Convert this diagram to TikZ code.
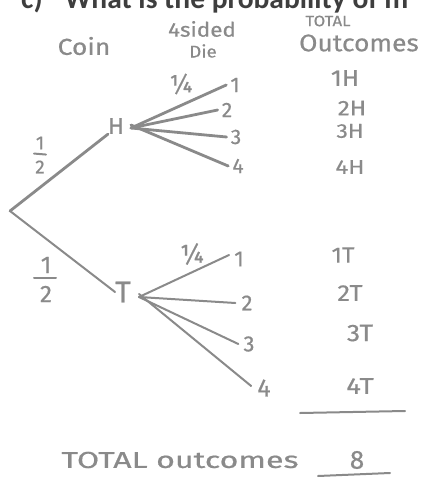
\documentclass[tikz,border=0pt]{standalone}
\usepackage{fontspec}
\setmainfont{Fira Sans}
\newfontfamily\headfont{Carlito}
\definecolor{pen}{HTML}{8A8A8A}
\definecolor{head}{HTML}{3E3E3E}
\tikzset{
  hand/.style={inner sep=0pt, text=pen},
  stroke/.style={draw=pen, line width=2.8pt, line cap=round},
  thin stroke/.style={draw=pen, line width=2pt, line cap=round},
}
\newcommand\hw[2]{\fontsize{#1}{#1}\selectfont\addfontfeature{FakeStretch=#2,FakeBold=0.6}}
\begin{document}
\begin{tikzpicture}[x=1pt,y=-1pt]
\useasboundingbox (0,0) rectangle (424,478);
\clip (0,0) rectangle (424,478);
% header (cut off at the top)
\node[anchor=base west, inner sep=0pt, text=head, font=\headfont\bfseries\fontsize{29.5}{29.5}\selectfont] (head) at (21,9)
  {c)\hspace{22pt}What is the probability of m};
% column titles
\node[hand, font=\hw{23}{1.15}] (coin) at (84,46) {Coin};
\node[hand, font=\hw{20}{1.12}] (sided) at (202,29) {4sided};
\node[hand, font=\hw{17}{1.1}] (die) at (203,51) {Die};
\node[hand, font=\hw{15}{1.12}] (total) at (328,21) {TOTAL};
\node[hand, font=\hw{24}{1.1}] (outc) at (359,43) {Outcomes};
% tree
\coordinate (root) at (10,211);
\node[hand, font=\hw{23}{1}] (H) at (116,126) {H};
\node[hand, font=\hw{30}{1}] (T) at (123,292) {T};
\draw[stroke] (root) -- (H.south west);
\draw[thin stroke] (root) -- (T.west);
% probabilities 1/2
\node[hand, font=\hw{19}{1}] (h1) at (40,143) {1};
\node[hand, font=\hw{19}{1}] (h2) at (40,167) {2};
\draw[thin stroke] ([xshift=-6pt,yshift=-4pt]h1.south) -- ([xshift=6pt,yshift=-5pt]h1.south);
\node[hand, font=\hw{24}{1}] (t1) at (46,265) {1};
\node[hand, font=\hw{24}{1}] (t2) at (46,294) {2};
\draw[thin stroke] ([xshift=-12pt,yshift=-5pt]t1.south) -- ([xshift=10pt,yshift=-5pt]t1.south);
% H branches
\coordinate (Hs) at (131,128);
\node[hand, font=\hw{21}{1}] (H1) at (235,85) {1};
\node[hand, font=\hw{21}{1}] (H2) at (227,110) {2};
\node[hand, font=\hw{21}{1}] (H3) at (236,137) {3};
\node[hand, font=\hw{21}{1}] (H4) at (238,166) {4};
\draw[stroke] (Hs) -- ([xshift=-4pt]H1.west);
\draw[stroke] (Hs) -- ([xshift=-4pt]H2.west);
\draw[stroke] (Hs) -- ([xshift=-4pt]H3.west);
\draw[stroke] ([yshift=3pt]Hs) -- ([xshift=-4pt]H4.west);
\node[hand, font=\hw{25}{1}] (Hq) at (181,84) {¼};
% T branches
\coordinate (Ts) at (139,297);
\node[hand, font=\hw{22}{1}] (T1) at (239,259) {1};
\node[hand, font=\hw{22}{1}] (T2) at (247,303) {2};
\node[hand, font=\hw{22}{1}] (T3) at (249,344) {3};
\node[hand, font=\hw{25}{1}] (T4) at (264,388) {4};
\draw[thin stroke] (Ts) -- ([xshift=-5pt,yshift=4pt]T1.west);
\draw[thin stroke] (Ts) -- ([xshift=-6pt]T2.west);
\draw[thin stroke] (Ts) -- ([xshift=-5pt]T3.west);
\draw[thin stroke] ([yshift=3pt]Ts) -- ([xshift=-6pt,yshift=2pt]T4.west);
\node[hand, font=\hw{26}{1}] (Tq) at (192,254) {¼};
% outcomes
\node[hand, font=\hw{23}{1.1}] (o1) at (345,78) {1H};
\node[hand, font=\hw{21}{1.15}] (o2) at (352,108) {2H};
\node[hand, font=\hw{20}{1.15}] (o3) at (350,131) {3H};
\node[hand, font=\hw{20}{1.2}] (o4) at (350,167) {4H};
\node[hand, font=\hw{22}{1.1}] (o5) at (343,255) {1T};
\node[hand, font=\hw{23}{1.1}] (o6) at (350,293) {2T};
\node[hand, font=\hw{24}{1.1}] (o7) at (360,333) {3T};
\node[hand, font=\hw{23}{1.2}] (o8) at (360,386) {4T};
\coordinate (u1) at (300,413);
\coordinate (u2) at (405,411);
\draw[thin stroke] (u1) -- (u2);
% total
\node[hand, font=\hw{23}{1.4}] (tot) at (180,460) {TOTAL outcomes};
\node[hand, font=\hw{26}{1}] (eight) at (357,460) {8};
\coordinate (v1) at (318,476);
\coordinate (v2) at (390,473);
\draw[thin stroke] (v1) -- (v2);
\end{tikzpicture}
\end{document}
